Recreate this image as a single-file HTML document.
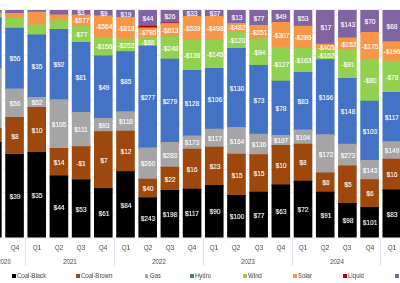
<!DOCTYPE html>
<html><head><meta charset="utf-8"><style>
html,body{margin:0;padding:0;background:#fff;}
body{width:400px;height:283px;overflow:hidden;position:relative;font-family:"Liberation Sans",sans-serif;}
.g{position:absolute;left:0;width:400px;height:1px;background:#EEF1F7;}
.r{position:absolute;}
.t{position:absolute;color:#fff;font-size:7.6px;line-height:0;white-space:nowrap;transform:translateX(-50%) scaleX(0.85);will-change:transform;-webkit-text-stroke:0.15px #fff;}
.q{position:absolute;color:#404040;font-size:7px;line-height:0;white-space:nowrap;transform:translateX(-50%) scaleX(0.88);will-change:transform;}
.sep{position:absolute;top:237.5px;height:28px;width:1px;background:#DCE4F1;}
.ls{position:absolute;top:274px;width:3.6px;height:3.6px;}
.lt{position:absolute;top:276px;color:#404040;font-size:7px;line-height:0;white-space:nowrap;will-change:transform;transform:scaleX(0.86);transform-origin:0 0;}
</style></head><body>
<div class="g" style="top:9px"></div>
<div class="g" style="top:32px"></div>
<div class="g" style="top:55px"></div>
<div class="g" style="top:78px"></div>
<div class="g" style="top:100px"></div>
<div class="g" style="top:123px"></div>
<div class="g" style="top:146px"></div>
<div class="g" style="top:169px"></div>
<div class="g" style="top:192px"></div>
<div class="g" style="top:214px"></div>
<div class="g" style="top:238px"></div>
<svg width="400" height="283" style="position:absolute;left:0;top:0">
<rect x="-16.94" y="10" width="18.6" height="4" fill="#8064A2"/>
<rect x="-16.94" y="12.5" width="18.6" height="3.5" fill="#F79646"/>
<rect x="-16.94" y="14.5" width="18.6" height="4.5" fill="#92D050"/>
<rect x="-16.94" y="17.5" width="18.6" height="52" fill="#4472C4"/>
<rect x="-16.94" y="68" width="18.6" height="61.5" fill="#A5A5A5"/>
<rect x="-16.94" y="128" width="18.6" height="15.5" fill="#9E480E"/>
<rect x="-16.94" y="142" width="18.6" height="95.5" fill="#000000"/>
<rect x="5.25" y="10" width="18.6" height="4.5" fill="#8064A2"/>
<rect x="5.25" y="13" width="18.6" height="6.5" fill="#F79646"/>
<rect x="5.25" y="18" width="18.6" height="11.25" fill="#92D050"/>
<rect x="5.25" y="27.75" width="18.6" height="62.25" fill="#4472C4"/>
<rect x="5.25" y="88.5" width="18.6" height="30" fill="#A5A5A5"/>
<rect x="5.25" y="117" width="18.6" height="38.5" fill="#9E480E"/>
<rect x="5.25" y="154" width="18.6" height="83.5" fill="#000000"/>
<rect x="27.44" y="10" width="18.6" height="3.2" fill="#8064A2"/>
<rect x="27.44" y="11.7" width="18.6" height="14.3" fill="#F79646"/>
<rect x="27.44" y="24.5" width="18.6" height="11.5" fill="#92D050"/>
<rect x="27.44" y="34.5" width="18.6" height="64" fill="#4472C4"/>
<rect x="27.44" y="97" width="18.6" height="11.5" fill="#A5A5A5"/>
<rect x="27.44" y="107" width="18.6" height="46.5" fill="#9E480E"/>
<rect x="27.44" y="152" width="18.6" height="85.5" fill="#000000"/>
<rect x="49.63" y="10" width="18.6" height="6" fill="#8064A2"/>
<rect x="49.63" y="14.5" width="18.6" height="6.5" fill="#F79646"/>
<rect x="49.63" y="19.5" width="18.6" height="11" fill="#92D050"/>
<rect x="49.63" y="29" width="18.6" height="71.75" fill="#4472C4"/>
<rect x="49.63" y="99.25" width="18.6" height="50.25" fill="#A5A5A5"/>
<rect x="49.63" y="148" width="18.6" height="29" fill="#9E480E"/>
<rect x="49.63" y="175.5" width="18.6" height="62" fill="#000000"/>
<rect x="71.82" y="10" width="18.6" height="6" fill="#8064A2"/>
<rect x="71.82" y="14.5" width="18.6" height="13" fill="#F79646"/>
<rect x="71.82" y="26" width="18.6" height="17.5" fill="#92D050"/>
<rect x="71.82" y="42" width="18.6" height="71.5" fill="#4472C4"/>
<rect x="71.82" y="112" width="18.6" height="35.75" fill="#A5A5A5"/>
<rect x="71.82" y="146.25" width="18.6" height="34.75" fill="#9E480E"/>
<rect x="71.82" y="179.5" width="18.6" height="58" fill="#000000"/>
<rect x="94.01" y="10" width="18.6" height="7" fill="#8064A2"/>
<rect x="94.01" y="15.5" width="18.6" height="23" fill="#F79646"/>
<rect x="94.01" y="37" width="18.6" height="20" fill="#92D050"/>
<rect x="94.01" y="55.5" width="18.6" height="64" fill="#4472C4"/>
<rect x="94.01" y="118" width="18.6" height="14.75" fill="#A5A5A5"/>
<rect x="94.01" y="131.25" width="18.6" height="58.45" fill="#9E480E"/>
<rect x="94.01" y="188.2" width="18.6" height="49.3" fill="#000000"/>
<rect x="116.2" y="10" width="18.6" height="8.5" fill="#8064A2"/>
<rect x="116.2" y="17" width="18.6" height="23.25" fill="#F79646"/>
<rect x="116.2" y="38.75" width="18.6" height="14" fill="#92D050"/>
<rect x="116.2" y="51.25" width="18.6" height="61.5" fill="#4472C4"/>
<rect x="116.2" y="111.25" width="18.6" height="21" fill="#A5A5A5"/>
<rect x="116.2" y="130.75" width="18.6" height="42" fill="#9E480E"/>
<rect x="116.2" y="171.25" width="18.6" height="66.25" fill="#000000"/>
<rect x="138.39" y="10" width="18.6" height="17.25" fill="#8064A2"/>
<rect x="138.39" y="25.75" width="18.6" height="3.25" fill="#C00000"/>
<rect x="138.39" y="27.5" width="18.6" height="11" fill="#F79646"/>
<rect x="138.39" y="37" width="18.6" height="10.25" fill="#92D050"/>
<rect x="138.39" y="45.75" width="18.6" height="103.25" fill="#4472C4"/>
<rect x="138.39" y="147.5" width="18.6" height="32.75" fill="#A5A5A5"/>
<rect x="138.39" y="178.75" width="18.6" height="20.25" fill="#9E480E"/>
<rect x="138.39" y="197.5" width="18.6" height="40" fill="#000000"/>
<rect x="160.58" y="10" width="18.6" height="14" fill="#8064A2"/>
<rect x="160.58" y="22.5" width="18.6" height="2.1" fill="#C00000"/>
<rect x="160.58" y="23.1" width="18.6" height="14.65" fill="#F79646"/>
<rect x="160.58" y="36.25" width="18.6" height="24" fill="#92D050"/>
<rect x="160.58" y="58.75" width="18.6" height="84.75" fill="#4472C4"/>
<rect x="160.58" y="142" width="18.6" height="26.25" fill="#A5A5A5"/>
<rect x="160.58" y="166.75" width="18.6" height="24.75" fill="#9E480E"/>
<rect x="160.58" y="190" width="18.6" height="47.5" fill="#000000"/>
<rect x="182.77" y="10" width="18.6" height="7.5" fill="#8064A2"/>
<rect x="182.77" y="16" width="18.6" height="24.75" fill="#F79646"/>
<rect x="182.77" y="39.25" width="18.6" height="32.25" fill="#92D050"/>
<rect x="182.77" y="70" width="18.6" height="67" fill="#4472C4"/>
<rect x="182.77" y="135.5" width="18.6" height="14.75" fill="#A5A5A5"/>
<rect x="182.77" y="148.75" width="18.6" height="41.5" fill="#9E480E"/>
<rect x="182.77" y="188.75" width="18.6" height="48.75" fill="#000000"/>
<rect x="204.96" y="10" width="18.6" height="7.5" fill="#8064A2"/>
<rect x="204.96" y="16" width="18.6" height="25.5" fill="#F79646"/>
<rect x="204.96" y="40" width="18.6" height="29.5" fill="#92D050"/>
<rect x="204.96" y="68" width="18.6" height="62.25" fill="#4472C4"/>
<rect x="204.96" y="128.75" width="18.6" height="19.5" fill="#A5A5A5"/>
<rect x="204.96" y="146.75" width="18.6" height="39.75" fill="#9E480E"/>
<rect x="204.96" y="185" width="18.6" height="52.5" fill="#000000"/>
<rect x="227.15" y="10" width="18.6" height="14.5" fill="#8064A2"/>
<rect x="227.15" y="23" width="18.6" height="9.75" fill="#F79646"/>
<rect x="227.15" y="31.25" width="18.6" height="18.25" fill="#92D050"/>
<rect x="227.15" y="48" width="18.6" height="80.5" fill="#4472C4"/>
<rect x="227.15" y="127" width="18.6" height="28.25" fill="#A5A5A5"/>
<rect x="227.15" y="153.75" width="18.6" height="42.75" fill="#9E480E"/>
<rect x="227.15" y="195" width="18.6" height="42.5" fill="#000000"/>
<rect x="249.34" y="10" width="18.6" height="16.5" fill="#8064A2"/>
<rect x="249.34" y="25" width="18.6" height="14.75" fill="#F79646"/>
<rect x="249.34" y="38.25" width="18.6" height="28.25" fill="#92D050"/>
<rect x="249.34" y="65" width="18.6" height="70.25" fill="#4472C4"/>
<rect x="249.34" y="133.75" width="18.6" height="22" fill="#A5A5A5"/>
<rect x="249.34" y="154.25" width="18.6" height="39" fill="#9E480E"/>
<rect x="249.34" y="191.75" width="18.6" height="45.75" fill="#000000"/>
<rect x="271.53" y="10" width="18.6" height="13.5" fill="#8064A2"/>
<rect x="271.53" y="22" width="18.6" height="26.5" fill="#F79646"/>
<rect x="271.53" y="47" width="18.6" height="35.25" fill="#92D050"/>
<rect x="271.53" y="80.75" width="18.6" height="55.75" fill="#4472C4"/>
<rect x="271.53" y="135" width="18.6" height="11.5" fill="#A5A5A5"/>
<rect x="271.53" y="145" width="18.6" height="41" fill="#9E480E"/>
<rect x="271.53" y="184.5" width="18.6" height="53" fill="#000000"/>
<rect x="293.72" y="10" width="18.6" height="17.25" fill="#8064A2"/>
<rect x="293.72" y="25.75" width="18.6" height="23.75" fill="#F79646"/>
<rect x="293.72" y="48" width="18.6" height="25.5" fill="#92D050"/>
<rect x="293.72" y="72" width="18.6" height="59" fill="#4472C4"/>
<rect x="293.72" y="129.5" width="18.6" height="15.75" fill="#A5A5A5"/>
<rect x="293.72" y="143.75" width="18.6" height="38.5" fill="#9E480E"/>
<rect x="293.72" y="180.75" width="18.6" height="56.75" fill="#000000"/>
<rect x="315.91" y="10" width="18.6" height="35.25" fill="#8064A2"/>
<rect x="315.91" y="43.75" width="18.6" height="7.75" fill="#F79646"/>
<rect x="315.91" y="50" width="18.6" height="10.75" fill="#92D050"/>
<rect x="315.91" y="59.25" width="18.6" height="76.5" fill="#4472C4"/>
<rect x="315.91" y="134.25" width="18.6" height="39.75" fill="#A5A5A5"/>
<rect x="315.91" y="172.5" width="18.6" height="20.75" fill="#9E480E"/>
<rect x="315.91" y="191.75" width="18.6" height="45.75" fill="#000000"/>
<rect x="338.1" y="10" width="18.6" height="29" fill="#8064A2"/>
<rect x="338.1" y="37.5" width="18.6" height="13.25" fill="#F79646"/>
<rect x="338.1" y="49.25" width="18.6" height="30.25" fill="#92D050"/>
<rect x="338.1" y="78" width="18.6" height="67.25" fill="#4472C4"/>
<rect x="338.1" y="143.75" width="18.6" height="23.25" fill="#A5A5A5"/>
<rect x="338.1" y="165.5" width="18.6" height="39" fill="#9E480E"/>
<rect x="338.1" y="203" width="18.6" height="34.5" fill="#000000"/>
<rect x="360.29" y="10" width="18.6" height="23.5" fill="#8064A2"/>
<rect x="360.29" y="32" width="18.6" height="28.25" fill="#F79646"/>
<rect x="360.29" y="58.75" width="18.6" height="43.5" fill="#92D050"/>
<rect x="360.29" y="100.75" width="18.6" height="60.75" fill="#4472C4"/>
<rect x="360.29" y="160" width="18.6" height="20.75" fill="#A5A5A5"/>
<rect x="360.29" y="179.25" width="18.6" height="29.25" fill="#9E480E"/>
<rect x="360.29" y="207" width="18.6" height="30.5" fill="#000000"/>
<rect x="382.48" y="10" width="18.6" height="32.75" fill="#8064A2"/>
<rect x="382.48" y="41.25" width="18.6" height="21" fill="#F79646"/>
<rect x="382.48" y="60.75" width="18.6" height="32.75" fill="#92D050"/>
<rect x="382.48" y="92" width="18.6" height="50.75" fill="#4472C4"/>
<rect x="382.48" y="141.25" width="18.6" height="19" fill="#A5A5A5"/>
<rect x="382.48" y="158.75" width="18.6" height="32.25" fill="#9E480E"/>
<rect x="382.48" y="189.5" width="18.6" height="48" fill="#000000"/>
</svg>
<div class="t" style="left:14.85px;top:59.33px">$56</div>
<div class="t" style="left:14.85px;top:103.95px">$56</div>
<div class="t" style="left:14.85px;top:136.7px">$8</div>
<div class="t" style="left:14.85px;top:196.95px">$39</div>
<div class="t" style="left:37.04px;top:66.95px">$35</div>
<div class="t" style="left:37.04px;top:103.2px">$52</div>
<div class="t" style="left:37.04px;top:130.7px">$10</div>
<div class="t" style="left:37.04px;top:195.95px">$35</div>
<div class="t" style="left:59.23px;top:65.33px">$92</div>
<div class="t" style="left:59.23px;top:124.83px">$105</div>
<div class="t" style="left:59.23px;top:162.95px">$14</div>
<div class="t" style="left:59.23px;top:207.7px">$44</div>
<div class="t" style="left:81.42px;top:13.45px">$3</div>
<div class="t" style="left:81.42px;top:21.45px">-$577</div>
<div class="t" style="left:81.42px;top:35.2px">-$77</div>
<div class="t" style="left:81.42px;top:78.2px">$81</div>
<div class="t" style="left:81.42px;top:130.32px">$111</div>
<div class="t" style="left:81.42px;top:164.07px">-$1</div>
<div class="t" style="left:81.42px;top:209.7px">$53</div>
<div class="t" style="left:103.61px;top:13.95px">$9</div>
<div class="t" style="left:103.61px;top:27.45px">-$564</div>
<div class="t" style="left:103.61px;top:47.45px">-$156</div>
<div class="t" style="left:103.61px;top:87.95px">$49</div>
<div class="t" style="left:103.61px;top:125.83px">$93</div>
<div class="t" style="left:103.61px;top:160.92px">$7</div>
<div class="t" style="left:103.61px;top:214.05px">$61</div>
<div class="t" style="left:125.8px;top:14.7px">$19</div>
<div class="t" style="left:125.8px;top:29.07px">-$818</div>
<div class="t" style="left:125.8px;top:46.2px">-$252</div>
<div class="t" style="left:125.8px;top:82.45px">$85</div>
<div class="t" style="left:125.8px;top:122.2px">$118</div>
<div class="t" style="left:125.8px;top:152.2px">$12</div>
<div class="t" style="left:125.8px;top:205.57px">$84</div>
<div class="t" style="left:147.99px;top:19.07px">$44</div>
<div class="t" style="left:147.99px;top:33.45px">-$795</div>
<div class="t" style="left:147.99px;top:42.58px">-$88</div>
<div class="t" style="left:147.99px;top:97.83px">$277</div>
<div class="t" style="left:147.99px;top:164.32px">$260</div>
<div class="t" style="left:147.99px;top:189.32px">$40</div>
<div class="t" style="left:147.99px;top:218.7px">$243</div>
<div class="t" style="left:170.18px;top:17.45px">$26</div>
<div class="t" style="left:170.18px;top:30.88px">-$613</div>
<div class="t" style="left:170.18px;top:48.7px">-$248</div>
<div class="t" style="left:170.18px;top:101.58px">$279</div>
<div class="t" style="left:170.18px;top:155.57px">$283</div>
<div class="t" style="left:170.18px;top:179.57px">$22</div>
<div class="t" style="left:170.18px;top:214.95px">$198</div>
<div class="t" style="left:192.37px;top:14.2px">$33</div>
<div class="t" style="left:192.37px;top:28.82px">-$539</div>
<div class="t" style="left:192.37px;top:55.83px">-$136</div>
<div class="t" style="left:192.37px;top:103.95px">$128</div>
<div class="t" style="left:192.37px;top:143.32px">$173</div>
<div class="t" style="left:192.37px;top:169.95px">$16</div>
<div class="t" style="left:192.37px;top:214.32px">$117</div>
<div class="t" style="left:214.56px;top:14.2px">$37</div>
<div class="t" style="left:214.56px;top:29.2px">-$498</div>
<div class="t" style="left:214.56px;top:55.2px">-$145</div>
<div class="t" style="left:214.56px;top:99.58px">$106</div>
<div class="t" style="left:214.56px;top:138.95px">$117</div>
<div class="t" style="left:214.56px;top:167.07px">$23</div>
<div class="t" style="left:214.56px;top:212.45px">$90</div>
<div class="t" style="left:236.75px;top:17.7px">$13</div>
<div class="t" style="left:236.75px;top:28.32px">-$482</div>
<div class="t" style="left:236.75px;top:40.83px">-$120</div>
<div class="t" style="left:236.75px;top:88.7px">$130</div>
<div class="t" style="left:236.75px;top:141.57px">$164</div>
<div class="t" style="left:236.75px;top:175.57px">$15</div>
<div class="t" style="left:236.75px;top:217.45px">$100</div>
<div class="t" style="left:258.94px;top:18.7px">$77</div>
<div class="t" style="left:258.94px;top:32.83px">-$251</div>
<div class="t" style="left:258.94px;top:52.83px">-$94</div>
<div class="t" style="left:258.94px;top:100.58px">$73</div>
<div class="t" style="left:258.94px;top:145.2px">$136</div>
<div class="t" style="left:258.94px;top:174.2px">$15</div>
<div class="t" style="left:258.94px;top:215.82px">$77</div>
<div class="t" style="left:281.13px;top:17.2px">$49</div>
<div class="t" style="left:281.13px;top:35.7px">-$307</div>
<div class="t" style="left:281.13px;top:65.08px">-$127</div>
<div class="t" style="left:281.13px;top:109.08px">$78</div>
<div class="t" style="left:281.13px;top:141.2px">$107</div>
<div class="t" style="left:281.13px;top:165.95px">$10</div>
<div class="t" style="left:281.13px;top:212.2px">$63</div>
<div class="t" style="left:303.32px;top:19.07px">$53</div>
<div class="t" style="left:303.32px;top:38.08px">-$286</div>
<div class="t" style="left:303.32px;top:61.2px">-$163</div>
<div class="t" style="left:303.32px;top:101.95px">$83</div>
<div class="t" style="left:303.32px;top:137.82px">$104</div>
<div class="t" style="left:303.32px;top:163.45px">$8</div>
<div class="t" style="left:303.32px;top:210.32px">$72</div>
<div class="t" style="left:325.51px;top:28.07px">$17</div>
<div class="t" style="left:325.51px;top:48.08px">-$405</div>
<div class="t" style="left:325.51px;top:55.83px">-$152</div>
<div class="t" style="left:325.51px;top:97.95px">$166</div>
<div class="t" style="left:325.51px;top:154.57px">$172</div>
<div class="t" style="left:325.51px;top:183.32px">$8</div>
<div class="t" style="left:325.51px;top:215.82px">$91</div>
<div class="t" style="left:347.7px;top:24.95px">$143</div>
<div class="t" style="left:347.7px;top:44.58px">-$152</div>
<div class="t" style="left:347.7px;top:64.83px">-$91</div>
<div class="t" style="left:347.7px;top:112.08px">$148</div>
<div class="t" style="left:347.7px;top:155.82px">$273</div>
<div class="t" style="left:347.7px;top:185.45px">$5</div>
<div class="t" style="left:347.7px;top:221.45px">$98</div>
<div class="t" style="left:369.89px;top:22.2px">$70</div>
<div class="t" style="left:369.89px;top:46.58px">-$175</div>
<div class="t" style="left:369.89px;top:80.95px">-$80</div>
<div class="t" style="left:369.89px;top:131.57px">$103</div>
<div class="t" style="left:369.89px;top:170.82px">$143</div>
<div class="t" style="left:369.89px;top:194.32px">$6</div>
<div class="t" style="left:369.89px;top:223.45px">$101</div>
<div class="t" style="left:392.08px;top:26.82px">$68</div>
<div class="t" style="left:392.08px;top:52.2px">-$196</div>
<div class="t" style="left:392.08px;top:77.58px">-$78</div>
<div class="t" style="left:392.08px;top:117.83px">$117</div>
<div class="t" style="left:392.08px;top:151.2px">$149</div>
<div class="t" style="left:392.08px;top:175.32px">$16</div>
<div class="t" style="left:392.08px;top:214.7px">$83</div>
<div class="q" style="left:14.55px;top:247.5px">Q4</div>
<div class="q" style="left:36.74px;top:247.5px">Q1</div>
<div class="q" style="left:58.93px;top:247.5px">Q2</div>
<div class="q" style="left:81.12px;top:247.5px">Q3</div>
<div class="q" style="left:103.31px;top:247.5px">Q4</div>
<div class="q" style="left:125.5px;top:247.5px">Q1</div>
<div class="q" style="left:147.69px;top:247.5px">Q2</div>
<div class="q" style="left:169.88px;top:247.5px">Q3</div>
<div class="q" style="left:192.07px;top:247.5px">Q4</div>
<div class="q" style="left:214.26px;top:247.5px">Q1</div>
<div class="q" style="left:236.45px;top:247.5px">Q2</div>
<div class="q" style="left:258.64px;top:247.5px">Q3</div>
<div class="q" style="left:280.83px;top:247.5px">Q4</div>
<div class="q" style="left:303.02px;top:247.5px">Q1</div>
<div class="q" style="left:325.21px;top:247.5px">Q2</div>
<div class="q" style="left:347.4px;top:247.5px">Q3</div>
<div class="q" style="left:369.59px;top:247.5px">Q4</div>
<div class="q" style="left:391.78px;top:247.5px">Q1</div>
<div class="q" style="left:3.5px;top:261.6px">2020</div>
<div class="q" style="left:70.1px;top:261.6px">2021</div>
<div class="q" style="left:158.9px;top:261.6px">2022</div>
<div class="q" style="left:247.7px;top:261.6px">2023</div>
<div class="q" style="left:336.5px;top:261.6px">2024</div>
<div class="sep" style="left:25px"></div>
<div class="sep" style="left:114px"></div>
<div class="sep" style="left:202.8px"></div>
<div class="sep" style="left:291.6px"></div>
<div class="sep" style="left:380.4px"></div>
<div class="ls" style="left:12px;background:#000000"></div><div class="lt" style="left:17px">Coal-Black</div>
<div class="ls" style="left:76.25px;background:#9E480E"></div><div class="lt" style="left:81.25px">Coal-Brown</div>
<div class="ls" style="left:144.5px;background:#A5A5A5"></div><div class="lt" style="left:149.5px">Gas</div>
<div class="ls" style="left:190px;background:#4472C4"></div><div class="lt" style="left:195px">Hydro</div>
<div class="ls" style="left:243px;background:#92D050"></div><div class="lt" style="left:248px">Wind</div>
<div class="ls" style="left:293px;background:#F79646"></div><div class="lt" style="left:298px">Solar</div>
<div class="ls" style="left:343px;background:#C00000"></div><div class="lt" style="left:348px">Liquid</div>
<div class="ls" style="left:395px;background:#8064A2"></div><div class="lt" style="left:400px">Other</div>
</body></html>
